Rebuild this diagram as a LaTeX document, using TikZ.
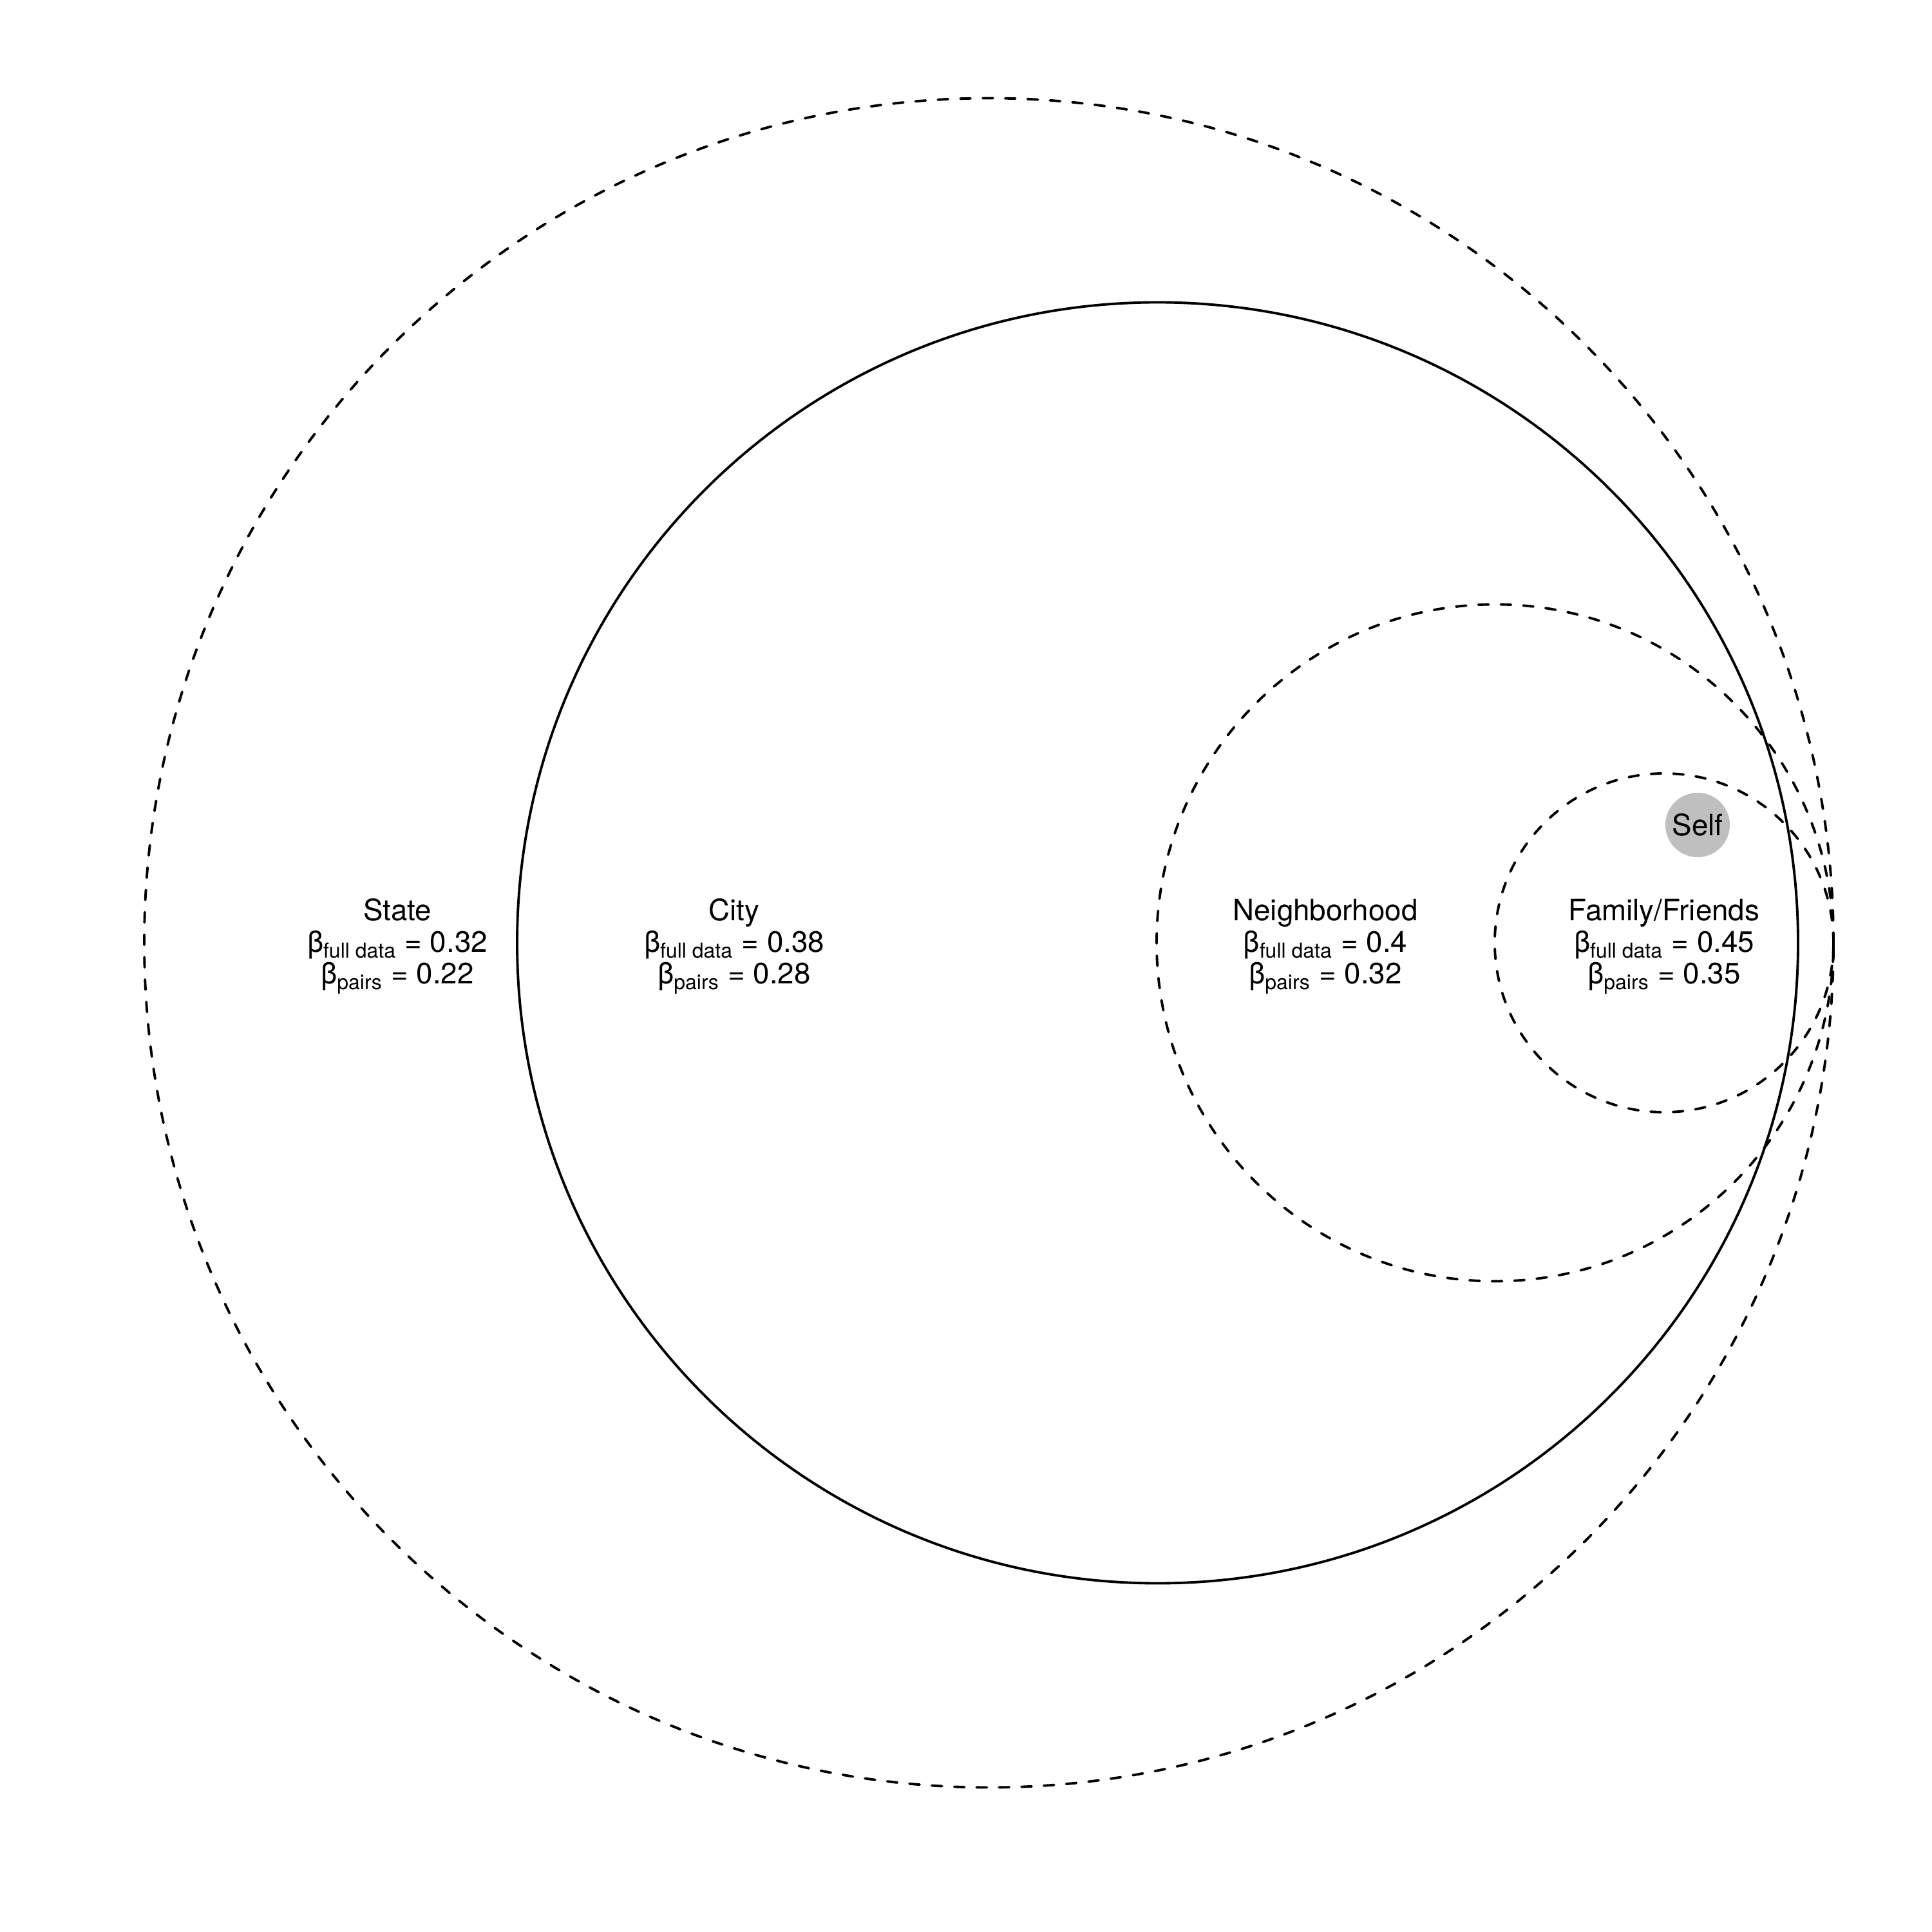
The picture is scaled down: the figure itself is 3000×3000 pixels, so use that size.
\documentclass[tikz,border=0pt]{standalone}
\usepackage{fontspec}
\setmainfont{TeX Gyre Heros}
\usepackage{tikz}
\usetikzlibrary{positioning}

\begin{document}
\begin{tikzpicture}[
      x=0.01cm, y=0.01cm,
      ring/.style={line width=1.1pt},
      dashring/.style={ring, line cap=round, dash pattern=on 4.5pt off 5.4pt},
      lab/.style={align=center, anchor=base, inner sep=0pt,
                  font=\fontsize{13}{14}\selectfont},
      selfdot/.style={circle, fill=black!25, minimum size=1cm, inner sep=0pt,
                  font=\fontsize{13}{14}\selectfont}
    ]
    \useasboundingbox (0,-1536) rectangle (3000,1464);

    % --- Nested circles ---
    \draw[dashring] (1535.5,0) circle (1311.5);
    \draw[ring]     (1797.5,0) circle (994.5);
    \draw[dashring] (2321.5,0) circle (525.5);
    \draw[dashring] (2584,0)   circle (263);

    % --- Self ---
    \node[selfdot] (self) at (2636,183) {Self};

    % --- Labels ---
    \node[lab] (state) at (617,-64)
      {State\\ β\textsubscript{full data} = 0.32\\ β\textsubscript{pairs} = 0.22};
    \node[lab] (city) at (1140,-64)
      {City\\ β\textsubscript{full data} = 0.38\\ β\textsubscript{pairs} = 0.28};
    \node[lab] (hood) at (2058,-64)
      {Neighborhood\\ β\textsubscript{full data} = 0.4\\ β\textsubscript{pairs} = 0.32};
    \node[lab] (fam) at (2584,-64)
      {Family/Friends\\ β\textsubscript{full data} = 0.45\\ β\textsubscript{pairs} = 0.35};

  \end{tikzpicture}
\end{document}
